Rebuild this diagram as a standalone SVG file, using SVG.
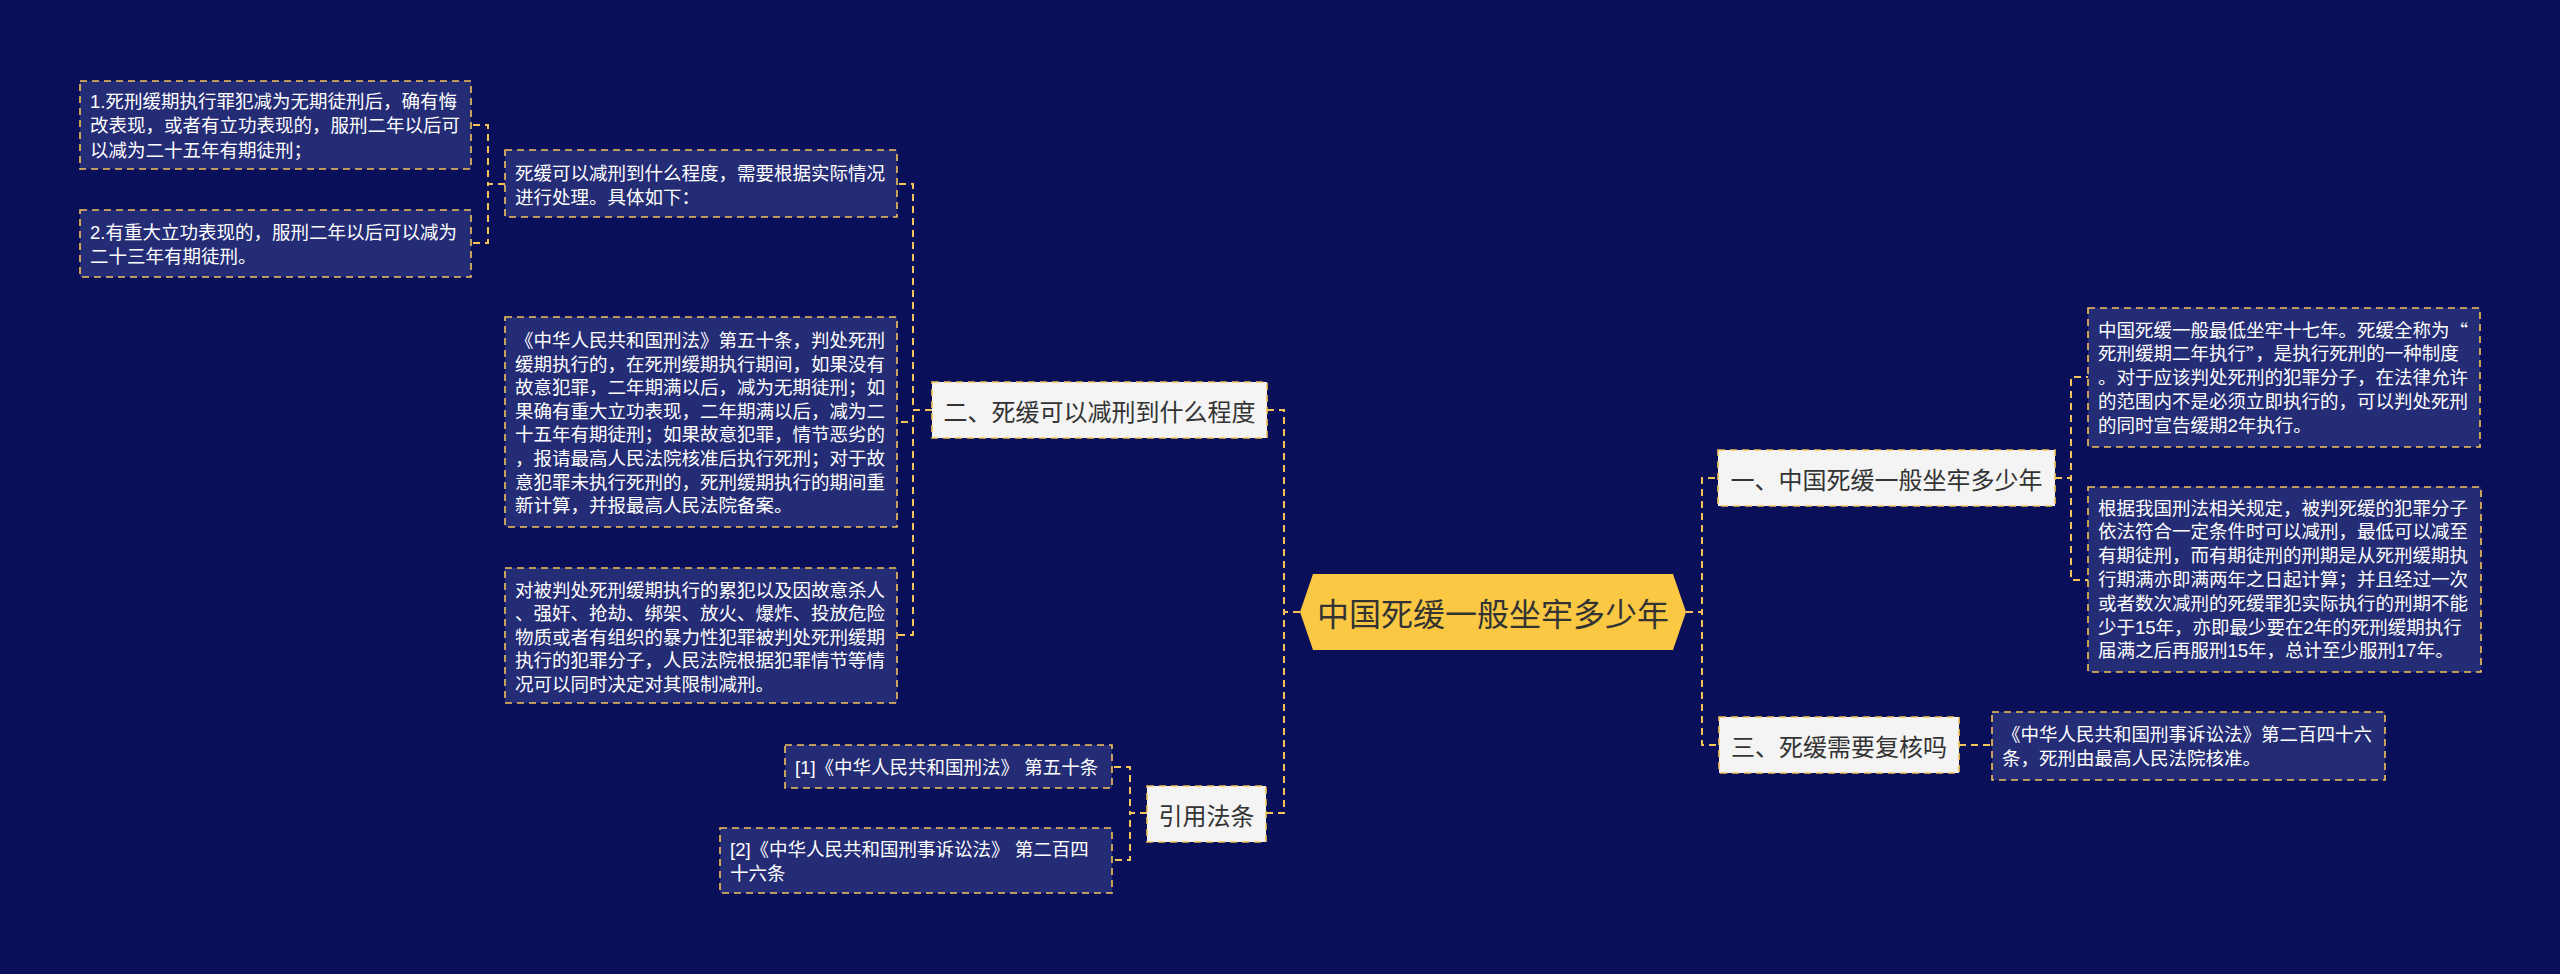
<svg xmlns="http://www.w3.org/2000/svg" width="2560" height="974" viewBox="0 0 2560 974">
<style>
.bg{fill:#0a0f5a}
.leaf{fill:#252c76;stroke:#f2c45a;stroke-width:1.6;stroke-dasharray:7 5}
.l1{fill:#f4f4f4;stroke:#f2c45a;stroke-width:1.6;stroke-dasharray:7 5}
.lt{font-family:"Liberation Sans","Noto Sans CJK SC",sans-serif;font-size:18.5px;fill:#ffffff;dominant-baseline:central}
.q{font-family:"Noto Sans CJK SC",sans-serif;font-feature-settings:"fwid"}
.l1t{font-family:"Noto Sans CJK SC",sans-serif;font-size:24px;fill:#333333;dominant-baseline:central;text-anchor:middle}
.ct{font-family:"Noto Sans CJK SC",sans-serif;font-size:32px;fill:#333333;dominant-baseline:central;text-anchor:middle}
.conn path{fill:none;stroke:#f2c45a;stroke-width:2;stroke-dasharray:7 5}
</style>
<rect class="bg" x="0" y="0" width="2560" height="974"/>
<g class="conn" id="connectors">
<path d="M1300,612 H1284 V410 H1267"/>
<path d="M1300,612 H1284 V813 H1266"/>
<path d="M1686,612 H1702 V478 H1718"/>
<path d="M1686,612 H1702 V745 H1719"/>
<path d="M932,410 H913 V184 H897"/>
<path d="M932,410 H913 V422 H897"/>
<path d="M932,410 H913 V635 H897"/>
<path d="M505,184 H488 V125 H471"/>
<path d="M505,184 H488 V243 H471"/>
<path d="M1147,813 H1130 V767 H1112"/>
<path d="M1147,813 H1130 V860 H1112"/>
<path d="M2055,478 H2071 V377 H2088"/>
<path d="M2055,478 H2071 V580 H2088"/>
<path d="M1959,745 H1992"/>
</g>
<g id="root">
<polygon points="1313,574 1673,574 1686,612 1673,650 1313,650 1300,612" fill="#fac843"/>
<text class="ct" x="1493" y="612">中国死缓一般坐牢多少年</text>
</g>
<g id="n-er">
<rect class="l1" x="932" y="382" width="335" height="56"/>
<text class="l1t" x="1099.5" y="410">二、死缓可以减刑到什么程度</text>
</g>
<g id="n-yinyong">
<rect class="l1" x="1147" y="786" width="119" height="56"/>
<text class="l1t" x="1206.5" y="814">引用法条</text>
</g>
<g id="n-yi">
<rect class="l1" x="1718" y="450" width="337" height="56"/>
<text class="l1t" x="1886.5" y="478">一、中国死缓一般坐牢多少年</text>
</g>
<g id="n-san">
<rect class="l1" x="1719" y="717" width="240" height="56"/>
<text class="l1t" x="1839" y="745">三、死缓需要复核吗</text>
</g>
<g id="n-degree">
<rect class="leaf" x="505" y="150" width="392" height="67"/>
<text class="lt" x="515" y="173">死缓可以减刑到什么程度，需要根据实际情况</text>
<text class="lt" x="515" y="197">进行处理。具体如下：</text>
</g>
<g id="n-leaf1">
<rect class="leaf" x="80" y="81" width="391" height="88"/>
<text class="lt" x="90" y="101">1.死刑缓期执行罪犯减为无期徒刑后，确有悔</text>
<text class="lt" x="90" y="125.5">改表现，或者有立功表现的，服刑二年以后可</text>
<text class="lt" x="90" y="150">以减为二十五年有期徒刑；</text>
</g>
<g id="n-leaf2">
<rect class="leaf" x="80" y="210" width="391" height="67"/>
<text class="lt" x="90" y="232">2.有重大立功表现的，服刑二年以后可以减为</text>
<text class="lt" x="90" y="256">二十三年有期徒刑。</text>
</g>
<g id="n-xingfa50">
<rect class="leaf" x="505" y="317" width="392" height="210"/>
<text class="lt" x="515" y="340.5">《中华人民共和国刑法》第五十条，判处死刑</text>
<text class="lt" x="515" y="364.1">缓期执行的，在死刑缓期执行期间，如果没有</text>
<text class="lt" x="515" y="387.7">故意犯罪，二年期满以后，减为无期徒刑；如</text>
<text class="lt" x="515" y="411.3">果确有重大立功表现，二年期满以后，减为二</text>
<text class="lt" x="515" y="434.9">十五年有期徒刑；如果故意犯罪，情节恶劣的</text>
<text class="lt" x="515" y="458.5">，报请最高人民法院核准后执行死刑；对于故</text>
<text class="lt" x="515" y="482.1">意犯罪未执行死刑的，死刑缓期执行的期间重</text>
<text class="lt" x="515" y="505.7">新计算，并报最高人民法院备案。</text>
</g>
<g id="n-leifan">
<rect class="leaf" x="505" y="568" width="392" height="135"/>
<text class="lt" x="515" y="590">对被判处死刑缓期执行的累犯以及因故意杀人</text>
<text class="lt" x="515" y="613.6">、强奸、抢劫、绑架、放火、爆炸、投放危险</text>
<text class="lt" x="515" y="637.2">物质或者有组织的暴力性犯罪被判处死刑缓期</text>
<text class="lt" x="515" y="660.8">执行的犯罪分子，人民法院根据犯罪情节等情</text>
<text class="lt" x="515" y="684.4">况可以同时决定对其限制减刑。</text>
</g>
<g id="n-ref1">
<rect class="leaf" x="785" y="745" width="327" height="43"/>
<text class="lt" x="795" y="767">[1]《中华人民共和国刑法》 第五十条</text>
</g>
<g id="n-ref2">
<rect class="leaf" x="720" y="828" width="392" height="65"/>
<text class="lt" x="730" y="849">[2]《中华人民共和国刑事诉讼法》 第二百四</text>
<text class="lt" x="730" y="873">十六条</text>
</g>
<g id="n-rightA">
<rect class="leaf" x="2088" y="308" width="392" height="139"/>
<text class="lt" x="2098" y="330">中国死缓一般最低坐牢十七年。死缓全称为<tspan class="q">“</tspan></text>
<text class="lt" x="2098" y="353.8">死刑缓期二年执行<tspan class="q">”</tspan>，是执行死刑的一种制度</text>
<text class="lt" x="2098" y="377.5">。对于应该判处死刑的犯罪分子，在法律允许</text>
<text class="lt" x="2098" y="401.2">的范围内不是必须立即执行的，可以判处死刑</text>
<text class="lt" x="2098" y="425">的同时宣告缓期2年执行。</text>
</g>
<g id="n-rightB">
<rect class="leaf" x="2088" y="487" width="393" height="185"/>
<text class="lt" x="2098" y="508">根据我国刑法相关规定，被判死缓的犯罪分子</text>
<text class="lt" x="2098" y="531.8">依法符合一定条件时可以减刑，最低可以减至</text>
<text class="lt" x="2098" y="555.6">有期徒刑，而有期徒刑的刑期是从死刑缓期执</text>
<text class="lt" x="2098" y="579.4">行期满亦即满两年之日起计算；并且经过一次</text>
<text class="lt" x="2098" y="603.2">或者数次减刑的死缓罪犯实际执行的刑期不能</text>
<text class="lt" x="2098" y="627">少于15年，亦即最少要在2年的死刑缓期执行</text>
<text class="lt" x="2098" y="650.8">届满之后再服刑15年，总计至少服刑17年。</text>
</g>
<g id="n-susong">
<rect class="leaf" x="1992" y="712" width="393" height="68"/>
<text class="lt" x="2002" y="734">《中华人民共和国刑事诉讼法》第二百四十六</text>
<text class="lt" x="2002" y="758">条，死刑由最高人民法院核准。</text>
</g>
</svg>
